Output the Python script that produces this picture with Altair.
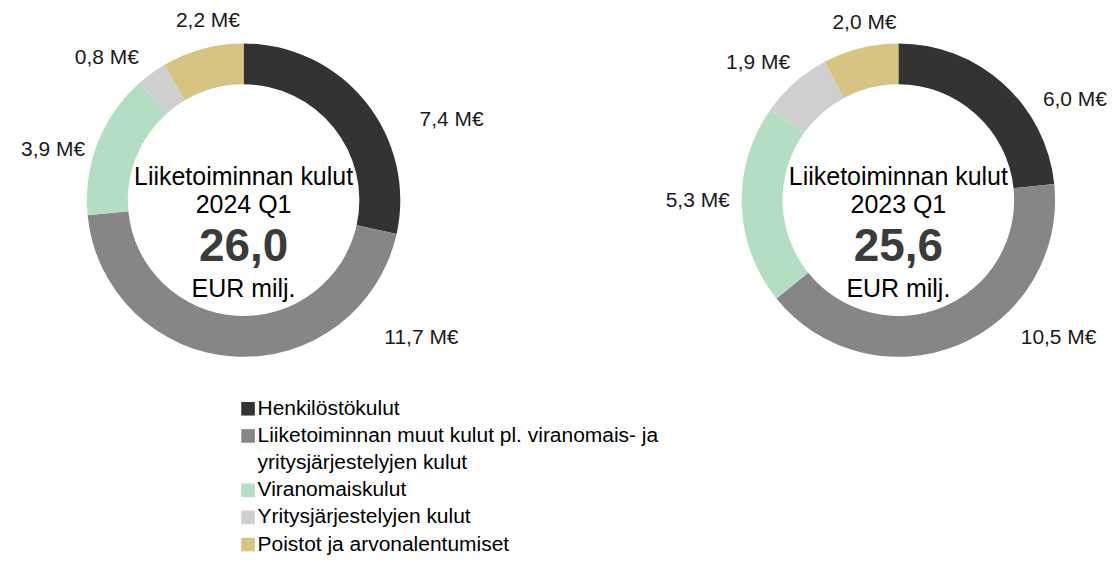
import math
import textwrap
import altair as alt
import pandas as pd

# ---------------- data ----------------
CATEGORIES = [
    "Henkilöstökulut",
    "Liiketoiminnan muut kulut pl. viranomais- ja yritysjärjestelyjen kulut",
    "Viranomaiskulut",
    "Yritysjärjestelyjen kulut",
    "Poistot ja arvonalentumiset",
]
VALUES_2024 = [7.4, 11.7, 3.9, 0.8, 2.2]
VALUES_2023 = [6.0, 10.5, 5.3, 1.9, 2.0]
PERIODS = ["2024 Q1", "2023 Q1"]
TOTALS = [26.0, 25.6]
CENTER_TITLE = "Liiketoiminnan kulut"
UNIT_LABEL = "EUR milj."
VALUE_SUFFIX = " M€"

# ---------------- style ----------------
COLORS = ["#333333", "#868686", "#b3dec1", "#d0cfd0", "#d8c482"]
FONT = "Liberation Sans"
INNER_R, OUTER_R = 116, 157
# label placement: base radius + spread * |sin(angle)|, plus manual nudges (deg, px)
LABEL_BASE_R, LABEL_SPREAD = 180, 22
LABEL_NUDGE = {
    "2024 Q1": [(17.6, 23), (-55.7, 28), (-6.8, -4), (-8.0, 2), (4.0, -1)],
    "2023 Q1": [(18.5, 4), (-26.9, 15), (1.6, -1), (-4.3, 1), (3.2, -3)],
}


def fmt(v):
    return f"{v:.1f}".replace(".", ",")


color_scale = alt.Scale(domain=CATEGORIES, range=COLORS)


def donut(values, period, total_disp, width, height):
    total = sum(values)
    starts, ends, acc = [], [], 0.0
    for v in values:
        starts.append(acc)
        acc += v
        ends.append(acc)
    rows = []
    for i, (c, v, s, e) in enumerate(zip(CATEGORIES, values, starts, ends)):
        dshift, dr = LABEL_NUDGE[period][i]
        ang = (s + e) / 2 / total * 360 + dshift
        rad = math.radians(ang)
        rows.append(
            dict(
                category=c,
                value=v,
                start=s,
                end=e,
                label=fmt(v) + VALUE_SUFFIX,
                label_pos=ang / 360 * total,
                label_r=LABEL_BASE_R + LABEL_SPREAD * abs(math.sin(rad)) + dr,
            )
        )
    df = pd.DataFrame(rows)
    theta_scale = alt.Scale(domain=[0, total], range=[0, 2 * math.pi])

    base = alt.Chart(df)
    arcs = base.mark_arc(innerRadius=INNER_R, outerRadius=OUTER_R).encode(
        theta=alt.Theta("start:Q", scale=theta_scale, stack=False),
        theta2="end:Q",
        color=alt.Color("category:N", scale=color_scale, legend=None),
        tooltip=["category:N", "value:Q"],
    )
    labels = base.mark_text(
        font=FONT, fontSize=21, color="#1a1a1a", align="center", baseline="middle"
    ).encode(
        theta=alt.Theta("label_pos:Q", scale=theta_scale, stack=False),
        radius=alt.Radius("label_r:Q", scale=None),
        text="label:N",
    )

    cdf = pd.DataFrame(
        [dict(title=CENTER_TITLE, period=period, total=fmt(total_disp), unit=UNIT_LABEL)]
    )
    cbase = alt.Chart(cdf)
    t1 = cbase.mark_text(font=FONT, fontSize=25, color="#000000", baseline="alphabetic", dy=-15).encode(text="title:N")
    t2 = cbase.mark_text(font=FONT, fontSize=25, color="#000000", baseline="alphabetic", dy=13).encode(text="period:N")
    t3 = cbase.mark_text(font=FONT, fontSize=46, fontWeight="bold", color="#3b3b3b", baseline="alphabetic", dy=61).encode(text="total:N")
    t4 = cbase.mark_text(font=FONT, fontSize=25, color="#000000", baseline="alphabetic", dy=97).encode(text="unit:N")

    return alt.layer(arcs, labels, t1, t2, t3, t4).properties(width=width, height=height)


left = donut(VALUES_2024, PERIODS[0], TOTALS[0], 472, 384)
right = donut(VALUES_2023, PERIODS[1], TOTALS[1], 414, 384)

# ---------------- legend (manual, with wrapped label) ----------------
leg_rows = []
r = 0
for cat in CATEGORIES:
    lines = textwrap.wrap(cat, 44)
    for j, line in enumerate(lines):
        leg_rows.append(dict(row=r, text=line, category=cat, first=(j == 0)))
        r += 1
ldf = pd.DataFrame(leg_rows)

ROW_H, FIRST_Y, LEG_H = 27.2, 17.0, 164
y_scale = alt.Scale(domain=[-FIRST_Y / ROW_H, (LEG_H - FIRST_Y) / ROW_H], range=[0, LEG_H])

lbase = alt.Chart(ldf)
squares = lbase.transform_filter("datum.first").mark_square(size=185, opacity=1, filled=True).encode(
    x=alt.value(240.5),
    y=alt.Y("row:Q", scale=y_scale, axis=None),
    color=alt.Color("category:N", scale=color_scale, legend=None),
)
ltext = lbase.mark_text(font=FONT, fontSize=21, color="#000000", align="left", baseline="middle", clip=True).encode(
    x=alt.value(250),
    y=alt.Y("row:Q", scale=y_scale, axis=None),
    text="text:N",
)
legend = alt.layer(squares, ltext).properties(width=1099, height=LEG_H)

top = alt.hconcat(left, right, spacing=213, bounds="flush").resolve_scale(theta="independent")
chart = (
    alt.vconcat(top, legend, spacing=0)
    .properties(padding=0)
    .configure(font=FONT)
    .configure_view(strokeWidth=0)
)

chart.save("out.html", embed_options={"renderer": "svg", "actions": False})
